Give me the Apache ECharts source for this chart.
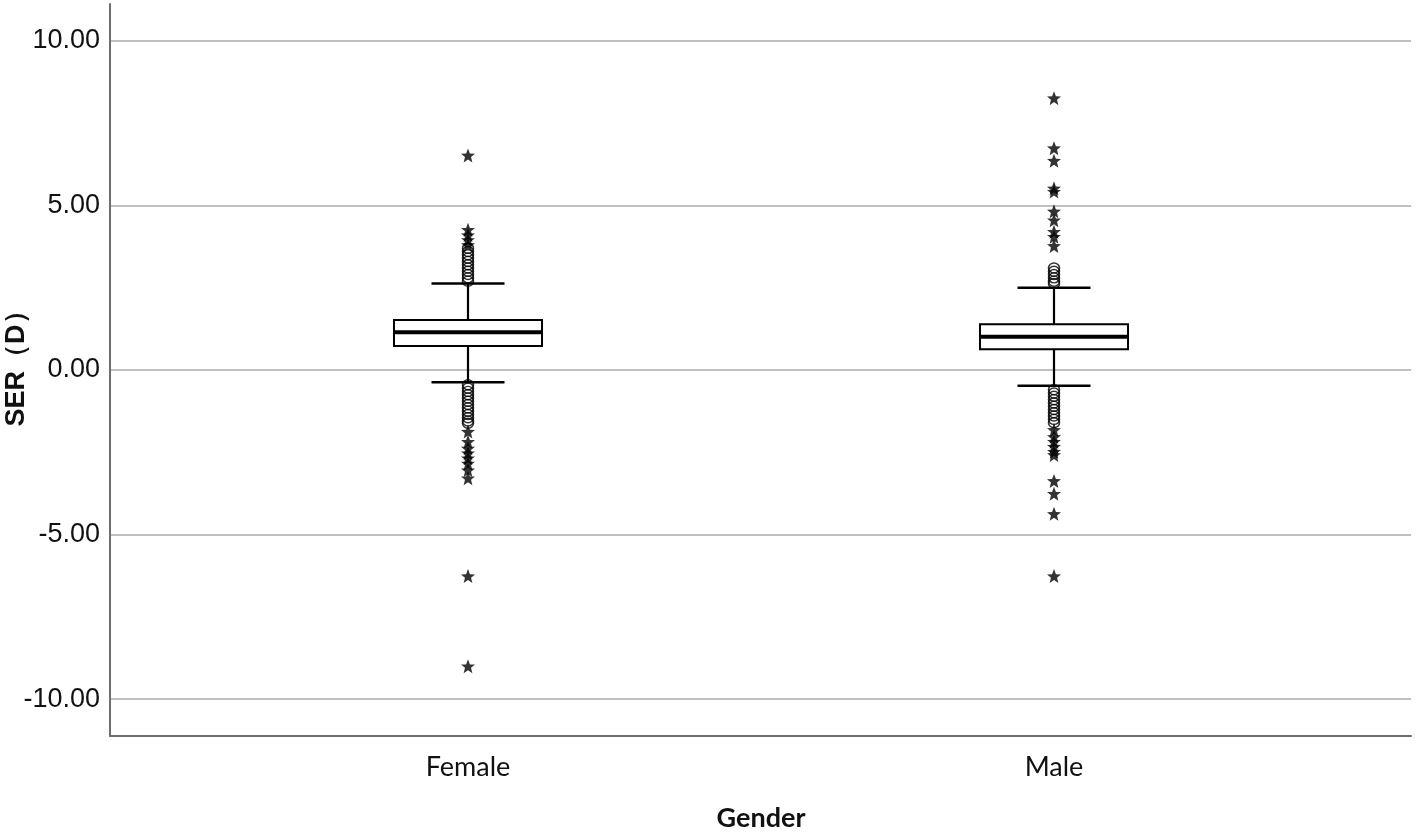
<!DOCTYPE html>
<html><head><meta charset="utf-8">
<script src="https://cdn.jsdelivr.net/npm/echarts@6/dist/echarts.min.js"></script>
<style>html,body{margin:0;padding:0;background:#fff}#c{width:1416px;height:833px}</style>
</head><body><div id="c"></div>
<script>
const categories = ['Female', 'Male'];
const yTicks = [-10, -5, 0, 5, 10];
// [lower whisker, Q1, median, Q3, upper whisker]
const femaleBox = [-0.37, 0.73, 1.15, 1.52, 2.63];
const maleBox = [-0.48, 0.63, 1.01, 1.39, 2.50];
// mild outliers (circles)
const femaleCircles = [2.70, 2.80, 2.90, 3.00, 3.10, 3.20, 3.30, 3.40, 3.50, 3.60, 3.70,
  -0.45, -0.55, -0.65, -0.75, -0.85, -0.95, -1.05, -1.15, -1.25, -1.35, -1.45, -1.55, -1.62];
const maleCircles = [2.63, 2.70, 2.80, 2.90, 3.00, 3.10,
  -0.60, -0.70, -0.80, -0.90, -1.00, -1.10, -1.20, -1.30, -1.40, -1.50, -1.60];
// extreme outliers (stars)
const femaleStars = [3.80, 3.95, 4.10, 4.26, 6.52,
  -1.87, -2.18, -2.38, -2.53, -2.68, -2.84, -3.04, -3.29, -6.26, -9.00];
const maleStars = [3.77, 4.05, 4.20, 4.55, 4.82, 5.42, 5.52, 6.36, 6.74, 8.26,
  -1.82, -2.03, -2.18, -2.33, -2.48, -2.58, -3.37, -3.76, -4.37, -6.26];

const boxes = [femaleBox, maleBox];
const boxData = boxes.map((b, i) => [i].concat(b));
const pts = (cat, arr) => arr.map(v => [cat, v]);
const starPath = 'path://M10 0 L12.6 6.7 L19.5 6.9 L14.1 11.1 L15.9 18.1 L10 14.2 L4.1 18.1 L5.9 11.1 L0.5 6.9 L7.4 6.7 Z';

function renderBox(params, api) {
  const x = api.value(0);
  const lo = api.coord([x, api.value(1)]);
  const q1 = api.coord([x, api.value(2)]);
  const md = api.coord([x, api.value(3)]);
  const q3 = api.coord([x, api.value(4)]);
  const hi = api.coord([x, api.value(5)]);
  const band = api.size([1, 0])[0];
  const hb = band * 0.2526 / 2;
  const hc = band * 0.1246 / 2;
  const cx = lo[0];
  const st = {stroke: '#000', lineWidth: 2.2, fill: null};
  return {
    type: 'group',
    children: [
      {type: 'line', shape: {x1: cx, y1: q3[1], x2: cx, y2: hi[1]}, style: st},
      {type: 'line', shape: {x1: cx, y1: q1[1], x2: cx, y2: lo[1]}, style: st},
      {type: 'line', shape: {x1: cx - hc, y1: hi[1], x2: cx + hc, y2: hi[1]}, style: {stroke: '#000', lineWidth: 2.5}},
      {type: 'line', shape: {x1: cx - hc, y1: lo[1], x2: cx + hc, y2: lo[1]}, style: {stroke: '#000', lineWidth: 2.5}},
      {type: 'rect', shape: {x: cx - hb, y: q3[1], width: hb * 2, height: q1[1] - q3[1]},
        style: {stroke: '#000', lineWidth: 2, fill: '#fff'}},
      {type: 'line', shape: {x1: cx - hb, y1: md[1], x2: cx + hb, y2: md[1]}, style: {stroke: '#000', lineWidth: 4}}
    ]
  };
}

const YMIN = -11.12, YMAX = 11.12;
const chart = echarts.init(document.getElementById('c'), null, {renderer: 'canvas'});
chart.setOption({
  backgroundColor: '#fff',
  animation: false,
  grid: [
    {left: 110, right: 5, top: 4, bottom: 97, containLabel: false, outerBoundsMode: 'none'},
    {left: 175, right: 69, top: 4, bottom: 97, containLabel: false, outerBoundsMode: 'none'}
  ],
  xAxis: [
    {gridIndex: 0, type: 'value', min: 0, max: 1,
      axisLine: {show: true, onZero: false, lineStyle: {color: '#6e6e6e', width: 2}},
      axisTick: {show: false}, axisLabel: {show: false}, splitLine: {show: false}},
    {gridIndex: 1, type: 'category', data: categories,
      axisLine: {show: false}, axisTick: {show: false}, splitLine: {show: false},
      axisLabel: {margin: 18, fontFamily: 'Lato', fontSize: 27, color: '#111'},
      name: 'Gender', nameLocation: 'middle', nameGap: 69, nameMoveOverlap: false,
      nameTextStyle: {fontFamily: 'Lato', fontWeight: 'bold', fontSize: 27, color: '#111'}}
  ],
  yAxis: [
    {gridIndex: 0, type: 'value', min: YMIN, max: YMAX,
      axisLine: {show: true, lineStyle: {color: '#6e6e6e', width: 2}},
      axisTick: {show: false, customValues: yTicks},
      axisLabel: {customValues: yTicks, margin: 10, fontFamily: 'Liberation Sans', fontSize: 27, color: '#111',
        formatter: v => v.toFixed(2)},
      splitLine: {show: true, lineStyle: {color: '#c0c0c0', width: 2}},
      name: 'SER（D）', nameLocation: 'middle', nameGap: 80, nameRotate: 90, nameMoveOverlap: false,
      nameTextStyle: {fontFamily: 'Liberation Sans', fontWeight: 'bold', fontSize: 27, color: '#111',
        padding: [0, 0, 0, 16]}},
    {gridIndex: 1, type: 'value', min: YMIN, max: YMAX, show: false, splitLine: {show: false}}
  ],
  series: [
    {type: 'custom', xAxisIndex: 1, yAxisIndex: 1, data: boxData,
      encode: {x: 0, y: [1, 2, 3, 4, 5]}, renderItem: renderBox, z: 3},
    {type: 'scatter', xAxisIndex: 1, yAxisIndex: 1, symbol: 'circle', symbolSize: [11, 10],
      data: pts(0, femaleCircles).concat(pts(1, maleCircles)),
      itemStyle: {color: 'transparent', borderColor: '#000', borderWidth: 1.5}, z: 4},
    {type: 'scatter', xAxisIndex: 1, yAxisIndex: 1, symbol: starPath, symbolSize: 14,
      data: pts(0, femaleStars).concat(pts(1, maleStars)),
      itemStyle: {color: '#000'}, z: 4}
  ]
});
</script></body></html>
